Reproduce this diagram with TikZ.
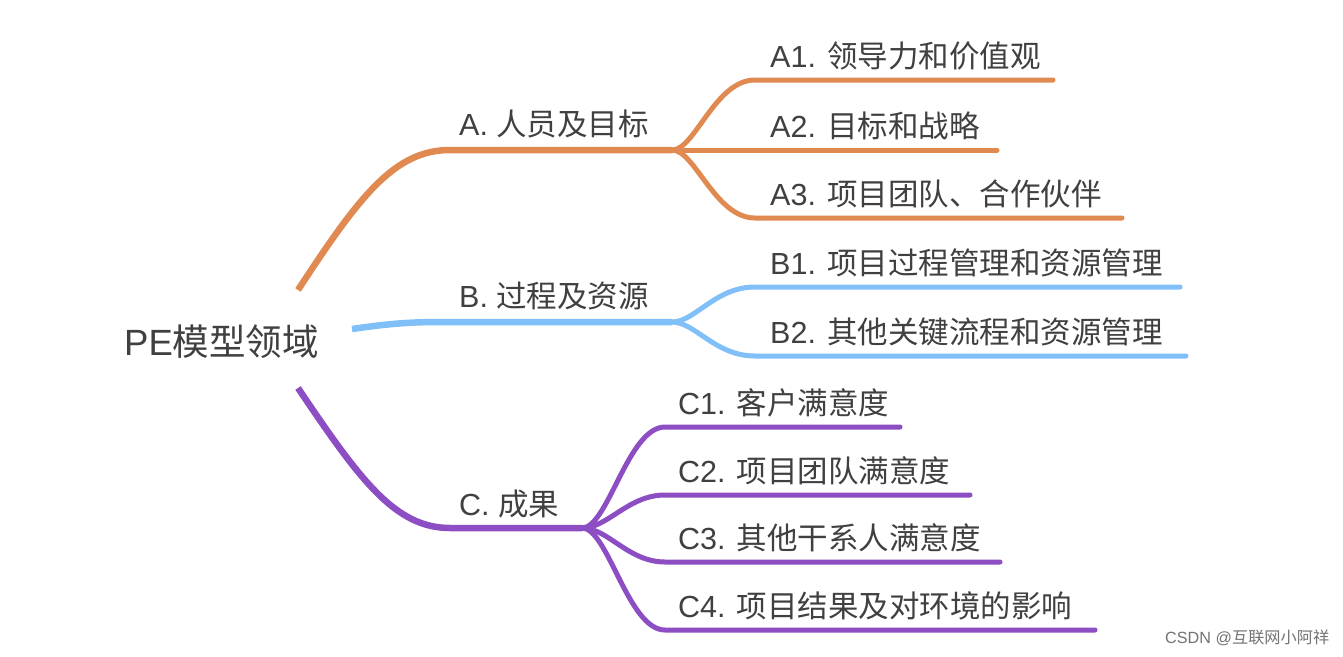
\documentclass[tikz,border=0pt]{standalone}
\usepackage{fontspec}
\setmainfont{Liberation Sans}
\newfontfamily\cjk{Noto Sans CJK SC}
\definecolor{orA}{HTML}{E08A52}
\definecolor{blB}{HTML}{80BFF7}
\definecolor{puC}{HTML}{8D4EC4}
\definecolor{txt}{HTML}{404040}
\tikzset{
  lbl/.style={anchor=base west, inner sep=0pt, text=txt, font=\fontsize{30.5}{34}\selectfont},
  mainline/.style={line width=6.5pt, line cap=butt},
  subline/.style={line width=5pt, line cap=round},
}
\begin{document}
\begin{tikzpicture}[x=1pt,y=-1pt]
\useasboundingbox[fill=white] (0,0) rectangle (1343,656);
% root
\node[anchor=base west, inner sep=0pt, text=txt, font=\fontsize{36.5}{40}\selectfont] (root) at (124,355) {PE{\cjk 模型领域}};
\coordinate (rA) at (298,290);
\coordinate (rB) at (352,329);
\coordinate (rC) at (298,388);
% forks
\coordinate (fA) at (672,150);
\coordinate (fB) at (672,322);
\coordinate (fC) at (582,528);
% level-1 labels
\node[lbl] (A) at (459,135) {A. {\cjk 人员及目标}};
\node[lbl] (B) at (459,307) {B. {\cjk 过程及资源}};
\node[lbl] (C) at (459,515) {C. {\cjk 成果}};
% level-2 labels
\node[lbl] (A1) at (770,67) {A1. {\cjk 领导力和价值观}};
\node[lbl] (A2) at (770,137) {A2. {\cjk 目标和战略}};
\node[lbl] (A3) at (770,205) {A3. {\cjk 项目团队、合作伙伴}};
\node[lbl] (B1) at (770,274) {B1. {\cjk 项目过程管理和资源管理}};
\node[lbl] (B2) at (770,343) {B2. {\cjk 其他关键流程和资源管理}};
\node[lbl] (C1) at (678,414) {C1. {\cjk 客户满意度}};
\node[lbl] (C2) at (678,482) {C2. {\cjk 项目团队满意度}};
\node[lbl] (C3) at (678,549) {C3. {\cjk 其他干系人满意度}};
\node[lbl] (C4) at (678,617) {C4. {\cjk 项目结果及对环境的影响}};
% ends
\coordinate (eA1) at (1053,80);
\coordinate (eA2) at (997,150);
\coordinate (eA3) at (1122,218);
\coordinate (eB1) at (1180,287);
\coordinate (eB2) at (1186,356);
\coordinate (eC1) at (900,427);
\coordinate (eC2) at (970,495);
\coordinate (eC3) at (1000,562);
\coordinate (eC4) at (1095,630);
% main branches
\draw[orA, mainline] (rA) .. controls (360,195) and (395,150) .. (450,150) -- (fA);
\draw[blB, mainline] (rB) .. controls (400,322) and (420,322) .. (450,322) -- (fB);
\draw[puC, mainline] (rC) .. controls (360,480) and (395,528) .. (450,528) -- (fC);
% A children
\draw[orA, subline] (fA) .. controls (695,150) and (715,80) .. (755,80) -- (eA1);
\draw[orA, subline] (fA) -- (eA2);
\draw[orA, subline] (fA) .. controls (695,150) and (715,218) .. (755,218) -- (eA3);
% B children
\draw[blB, subline] (fB) .. controls (695,322) and (715,287) .. (755,287) -- (eB1);
\draw[blB, subline] (fB) .. controls (695,322) and (715,356) .. (755,356) -- (eB2);
% C children
\draw[puC, subline] (fC) .. controls (608,528) and (628,427) .. (665,427) -- (eC1);
\draw[puC, subline] (fC) .. controls (608,528) and (628,495) .. (665,495) -- (eC2);
\draw[puC, subline] (fC) .. controls (608,528) and (628,562) .. (665,562) -- (eC3);
\draw[puC, subline] (fC) .. controls (608,528) and (628,630) .. (665,630) -- (eC4);
% watermark
\node[anchor=base west, inner sep=0pt, text=black!55, font=\fontsize{16.2}{19}\selectfont] (wm) at (1165,643) {CSDN @{\cjk 互联网小阿祥}};
\end{tikzpicture}
\end{document}
